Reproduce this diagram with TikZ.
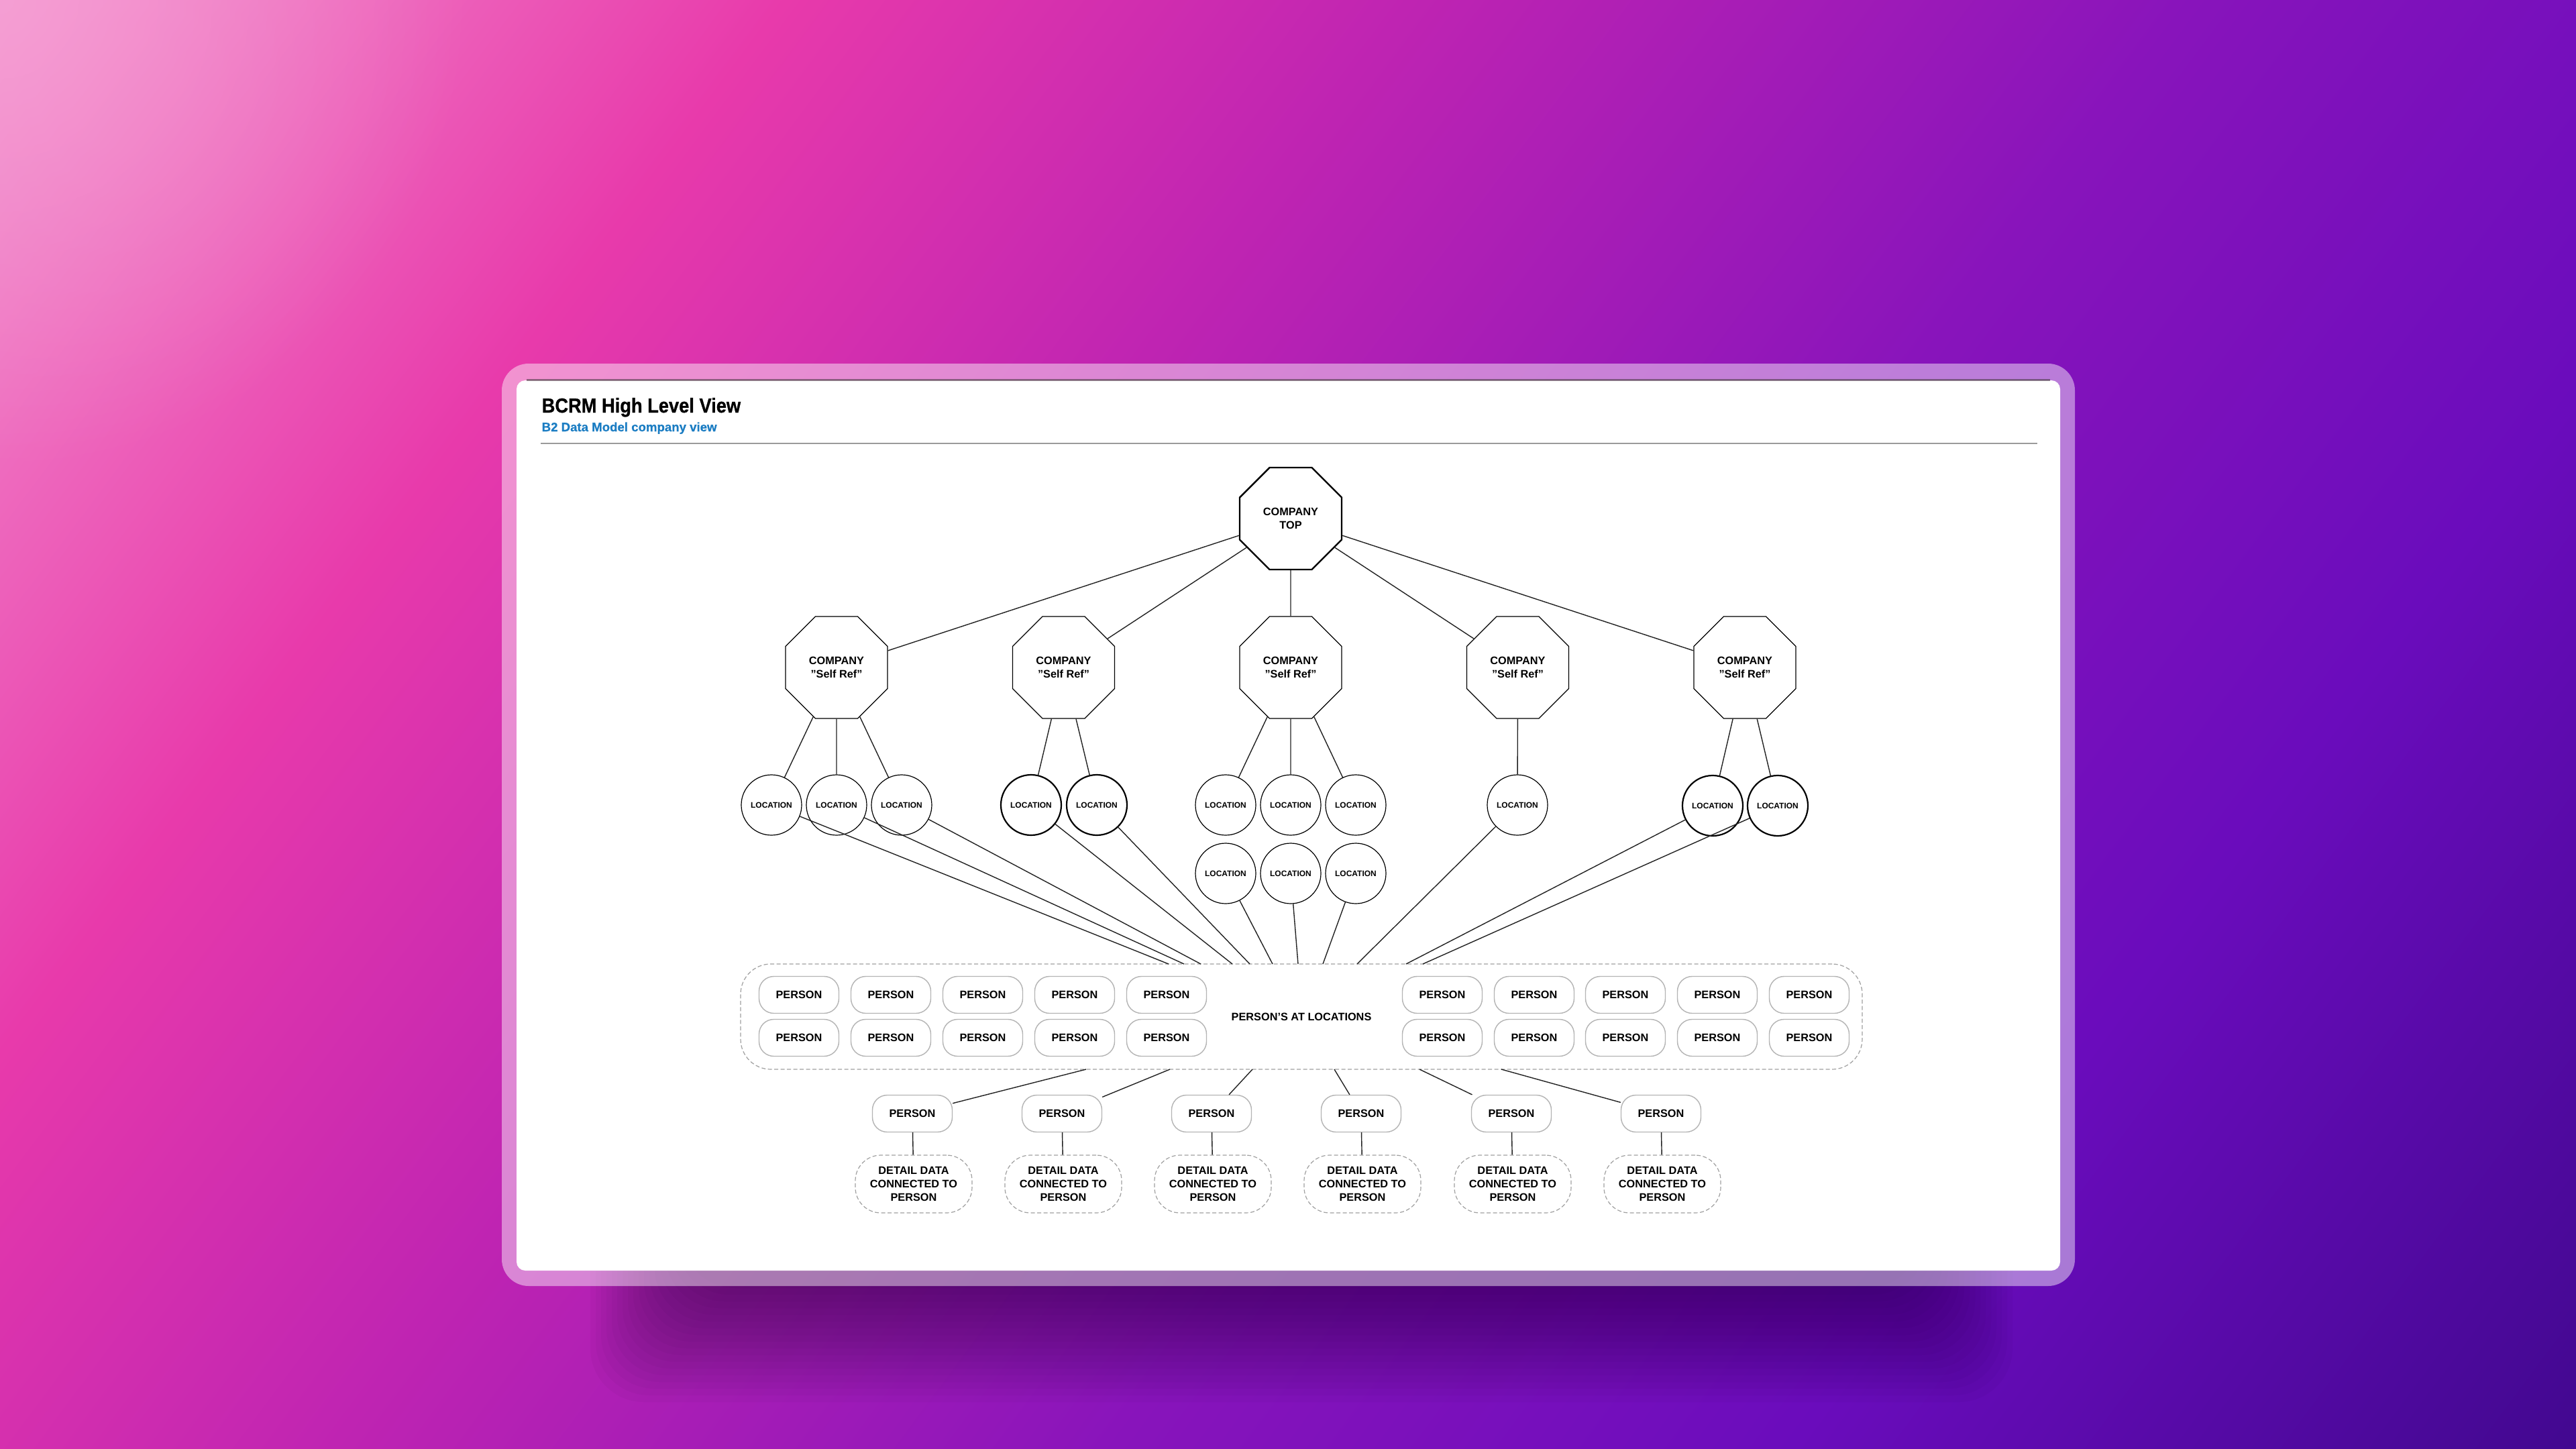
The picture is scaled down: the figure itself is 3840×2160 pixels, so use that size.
\documentclass[tikz,border=0pt]{standalone}
\usepackage{fontspec}
\setmainfont{Liberation Sans}
\newfontfamily\headfont[FakeStretch=0.9, FakeBold=0.8]{Liberation Sans}
\newfontfamily\subfont[FakeBold=0.5]{Liberation Sans}
\usetikzlibrary{shapes.geometric,fadings}

\definecolor{bgA}{HTML}{F391CD}
\definecolor{bgB}{HTML}{E83AAB}
\definecolor{bgC}{HTML}{BF24B2}
\definecolor{bgD}{HTML}{8814BB}
\definecolor{bgE}{HTML}{6A0CBC}
\definecolor{bgF}{HTML}{420890}
\definecolor{glowpink}{HTML}{F6A8D8}
\definecolor{shadowtint}{HTML}{1A0030}
\definecolor{stripdark}{HTML}{4A3C44}
\definecolor{subblue}{HTML}{1B7DC3}
\definecolor{rulegray}{HTML}{9A9A9A}
\definecolor{boxgray}{HTML}{B4B4B4}
\definecolor{dashgray}{HTML}{A0A0A0}
\definecolor{linkblack}{HTML}{222222}

\pgfdeclarehorizontalshading{bgsweep}{100bp}{color(0bp)=(bgA); color(15bp)=(bgA); color(30bp)=(bgB); color(42bp)=(bgC); color(57bp)=(bgD); color(70bp)=(bgE); color(85bp)=(bgF); color(100bp)=(bgF)}
\tikzfading[name=glowfade, inner color=transparent!0, outer color=transparent!100]

\newcommand\diagfont{\fontsize{4.64}{5.7}\selectfont\bfseries}
\newcommand\locfont{\fontsize{3.41}{4}\selectfont\bfseries}

\begin{document}
\begin{tikzpicture}[x=0.1mm, y=-0.1mm,
    link/.style={draw=linkblack, line width=0.14mm},
    bigoct/.style={regular polygon, regular polygon sides=8, minimum size=16.45mm, inner sep=0pt, draw, fill=white, align=center, font=\diagfont},
    topoct/.style={bigoct, line width=0.24mm},
    selfoct/.style={bigoct, line width=0.13mm},
    locnode/.style={circle, draw, line width=0.12mm, minimum size=9mm, inner sep=0pt, font=\locfont},
    heavyloc/.style={locnode, line width=0.22mm},
    personbox/.style={rectangle, rounded corners=2.2mm, draw=boxgray, line width=0.14mm, minimum width=11.9mm, minimum height=5.5mm, inner sep=0pt, fill=white, font=\diagfont},
    groupbox/.style={rectangle, rounded corners=4.5mm, draw=dashgray, dash pattern=on 0.6mm off 0.35mm, line width=0.12mm, minimum width=167.2mm, minimum height=15.7mm, font=\diagfont},
    detailbox/.style={rectangle, rounded corners=3.8mm, draw=dashgray, dash pattern=on 0.6mm off 0.35mm, line width=0.12mm, minimum width=17.4mm, minimum height=8.6mm, inner sep=0pt, align=center, font=\diagfont}]
    \useasboundingbox (0,0) rectangle (3840,2160);
    % backdrop
    \shade[shading=bgsweep, shading angle=-36.7] (0,0) rectangle (3840,2160);
    \fill[glowpink, opacity=0.6, path fading=glowfade] (0,0) circle (700);
    \foreach \k in {0,...,17}
        \fill[shadowtint, opacity=0.03, rounded corners=8mm] (880+\k*8,1600) rectangle (3000-\k*8,2090-\k*10);
    \fill[white, opacity=0.45, rounded corners=4mm] (748,542) rectangle (3093,1917);
    \fill[white, rounded corners=1.3mm] (770,567) rectangle (3071,1894);
    \draw[stripdark, opacity=0.6, line width=0.3mm] (785,566) -- (3056,566);
    % heading
    \node[anchor=base west, inner sep=0pt, font=\headfont\fontsize{8.62}{10}\selectfont\bfseries] (title) at (807,615) {BCRM High Level View};
    \node[anchor=base west, inner sep=0pt, text=subblue, font=\subfont\fontsize{5.3}{6.5}\selectfont\bfseries] (subtitle) at (807,643) {B2 Data Model company view};
    \draw[rulegray, line width=0.2mm] (806,661) -- (3037,661);
    % companies
    \node[topoct] (top) at (1924,773) {COMPANY\\TOP};
    \foreach \i/\xx in {1/1247,2/1585.5,3/1924,4/2262.5,5/2601}
        \node[selfoct] (co\i) at (\xx,995) {COMPANY\\"Self Ref"};
    % locations
    \foreach \n/\xx/\yy/\st in {l11/1150/1200/locnode,l12/1247/1200/locnode,l13/1344/1200/locnode,
            l21/1537/1200/heavyloc,l22/1635/1200/heavyloc,
            l31/1827/1200/locnode,l32/1924/1200/locnode,l33/2021/1200/locnode,
            l34/1827/1302/locnode,l35/1924/1302/locnode,l36/2021/1302/locnode,
            l41/2262/1200/locnode,l51/2553/1201/heavyloc,l52/2650/1201/heavyloc}
        \node[\st] (\n) at (\xx,\yy) {LOCATION};
    % persons at locations
    \node[groupbox] (pal) at (1940,1515.5) {PERSON'S AT LOCATIONS};
    \foreach \xx [count=\i] in {1191,1328,1465,1602,1739,2150,2287,2423,2560,2697} {
        \node[personbox] (pa\i) at (\xx,1483) {PERSON};
        \node[personbox] (pb\i) at (\xx,1547) {PERSON};
    }
    % persons with detail data
    \foreach \xx [count=\i] in {1360,1583,1806,2029,2253,2476} {
        \node[personbox] (pr\i) at (\xx,1660) {PERSON};
        \node[detailbox] (dd\i) at ({\xx+2},1765) {DETAIL DATA\\CONNECTED TO\\PERSON};
    }
    % connectors
    \foreach \i in {1,...,5}
        \draw[link] (top) -- (co\i);
    \foreach \a/\b in {co1/l11,co1/l12,co1/l13,co2/l21,co2/l22,co3/l31,co3/l32,co3/l33,co4/l41,co5/l51,co5/l52}
        \draw[link] (\a) -- (\b);
    \foreach \n/\xx [count=\i] in {l11/1742,l12/1765,l13/1790,l21/1837,l22/1863,l34/1897,l35/1935,l36/1972,l41/2023,l51/2096,l52/2121} {
        \coordinate (in\i) at (\xx,1437);
        \draw[link] (\n) -- (in\i);
    }
    \foreach \xx [count=\i] in {1619,1744,1867,1989,2116,2238} {
        \coordinate (out\i) at (\xx,1594);
        \draw[link] (out\i) -- (pr\i);
        \draw[link] (pr\i) -- (dd\i);
    }
\end{tikzpicture}
\end{document}
